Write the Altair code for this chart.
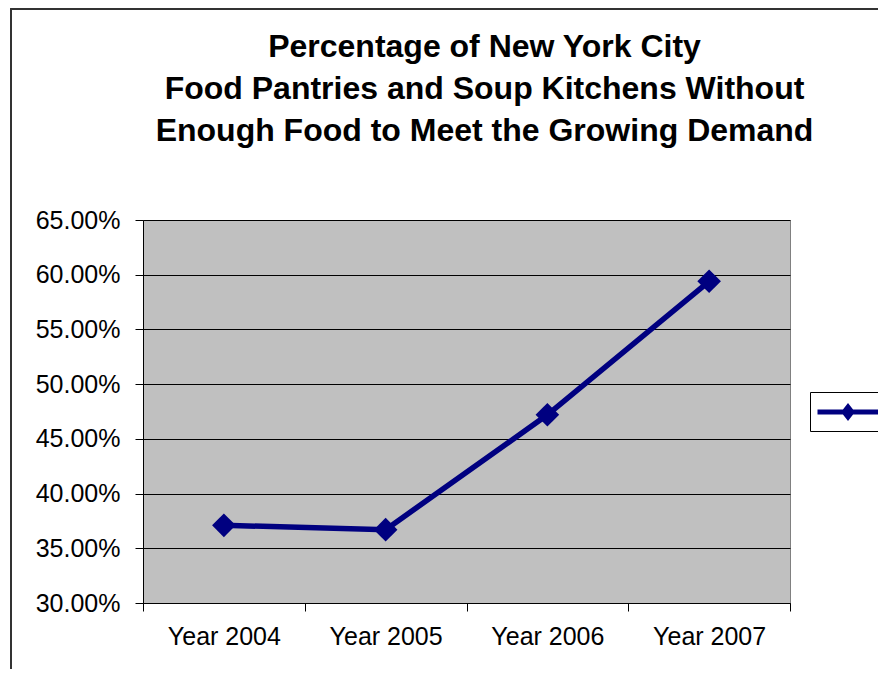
import altair as alt
import pandas as pd

years = ["Year 2004", "Year 2005", "Year 2006", "Year 2007"]
values = [0.371, 0.367, 0.472, 0.594]
series = ["Series1"] * 4
y_ticks = [0.30, 0.35, 0.40, 0.45, 0.50, 0.55, 0.60, 0.65]
title_lines = ["Percentage of New York City",
               "Food Pantries and Soup Kitchens Without",
               "Enough Food to Meet the Growing Demand"]

df = pd.DataFrame({"year": years, "value": values, "series": series})

NAVY = "#000080"
FONT = "Liberation Sans"

x_enc = alt.X("year:N", sort=years,
              scale=alt.Scale(paddingInner=0, paddingOuter=0),
              axis=alt.Axis(title=None, labelAngle=0, tickBand="extent",
                            labelFontSize=25, labelFont=FONT, labelColor="black",
                            labelPadding=13, tickSize=8, tickColor="black",
                            domainColor="black", grid=False))
y_enc = alt.Y("value:Q",
              scale=alt.Scale(domain=[0.30, 0.65], nice=False, zero=False),
              axis=alt.Axis(title=None, values=y_ticks, format=".2%",
                            labelFontSize=25, labelFont=FONT, labelColor="black",
                            labelPadding=15, tickSize=8, tickColor="black",
                            domainColor="black", grid=True, gridColor="black",
                            gridWidth=1, gridOpacity=1))

base = alt.Chart(df)

border = base.mark_rect(fill=None, stroke="#333333", strokeWidth=1.5, clip=False).encode(
    x=alt.value(-132), x2=alt.value(760),
    y=alt.value(-211), y2=alt.value(480),
)

line = base.mark_line(color=NAVY, strokeWidth=5.5).encode(x=x_enc, y=y_enc)

legend_path = "M-3.05,-0.25L3.05,-0.25L3.05,0.25L-3.05,0.25Z M0,-0.9L0.7,0L0,0.9L-0.7,0Z"

points = base.mark_point(filled=True, shape="diamond", size=560, opacity=1).encode(
    x=x_enc, y=y_enc,
    color=alt.Color("series:N",
                    scale=alt.Scale(domain=["Series1"], range=[NAVY]),
                    legend=alt.Legend(title=None, orient="none",
                                      legendX=667, legendY=172,
                                      symbolType=legend_path, symbolSize=400,
                                      symbolStrokeWidth=0, symbolOffset=18,
                                      padding=10, labelOffset=13,
                                      labelExpr="''",
                                      strokeColor="black", fillColor="white",
                                      cornerRadius=0)),
)

chart = alt.layer(border, line, points).properties(
    width=647, height=383,
    padding={"left": 135, "top": 212, "right": 88, "bottom": 66},
    autosize=alt.AutoSizeParams(type="none"),
    background="white",
    title=alt.TitleParams(text=title_lines, fontSize=32, font=FONT,
                          fontWeight="bold", color="black", lineHeight=42,
                          anchor="middle", dx=18, offset=-140),
).configure_view(
    fill="#C0C0C0", stroke="#808080", strokeWidth=1
)

chart.save("out.html", embed_options={"renderer": "svg", "actions": False})
